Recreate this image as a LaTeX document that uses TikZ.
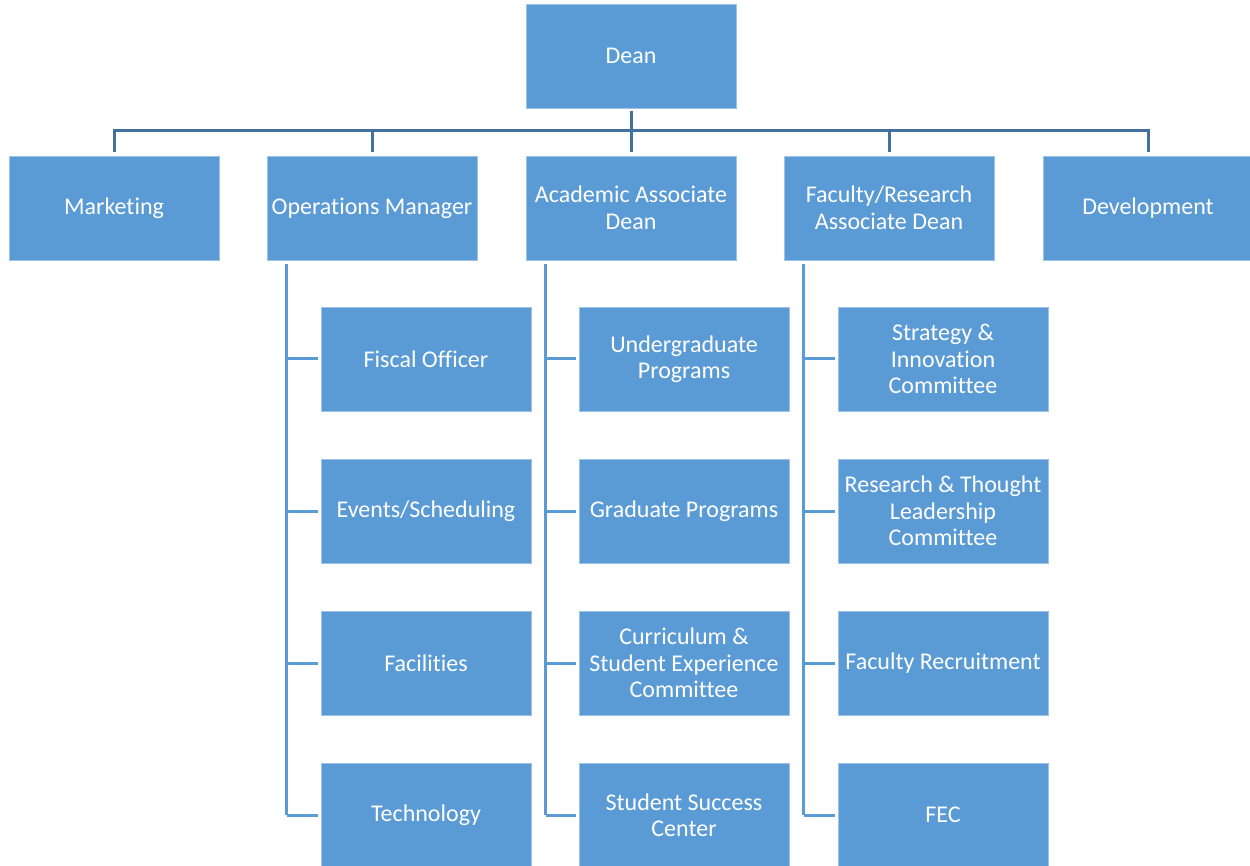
\documentclass[tikz,border=0pt]{standalone}
\usepackage{fontspec}
\setmainfont{Carlito}[Ligatures=NoCommon]
\usetikzlibrary{calc}
\definecolor{boxfill}{HTML}{5B9BD5}
\definecolor{boxedge}{HTML}{9DC3E6}
\definecolor{topline}{HTML}{41719C}
\definecolor{subline}{HTML}{5B9BD5}
\begin{document}
\begin{tikzpicture}[x=1pt,y=-1pt,
  orgbox/.style={fill=boxfill,draw=boxedge,line width=0.8pt,minimum width=210pt,minimum height=104pt,
    inner sep=0pt,text=white,align=center,font=\fontsize{24}{26.5}\selectfont},
  toplink/.style={draw=topline,line width=3pt},
  sublink/.style={draw=subline,line width=3pt}]
\useasboundingbox (0,0) rectangle (1250,866);
\clip (0,0) rectangle (1250,866);
% top
\node[orgbox] (dean) at (631,56) {Dean};
\node[orgbox] (mkt) at (114,208) {Marketing};
\node[orgbox] (ops) at (372,208) {Operations Manager};
\node[orgbox] (acad) at (631,208) {Academic Associate\\Dean};
\node[orgbox] (fac) at (889,208) {Faculty/Research\\Associate Dean};
\node[orgbox] (dev) at (1148,208) {Development};
% children
\node[orgbox] (fis) at (426,359) {Fiscal Officer};
\node[orgbox] (evt) at (426,511) {Events/Scheduling};
\node[orgbox] (facl) at (426,663) {Facilities};
\node[orgbox] (tech) at (426,815) {Technology};
\node[orgbox] (ug) at (684,359) {Undergraduate\\Programs};
\node[orgbox] (grad) at (684,511) {Graduate Programs};
\node[orgbox] (cur) at (684,663) {Curriculum \&\\Student Experience\\Committee};
\node[orgbox] (ssc) at (684,815) {Student Success\\Center};
\node[orgbox] (str) at (943,359) {Strategy \&\\Innovation\\Committee};
\node[orgbox] (rtl) at (943,511) {Research \& Thought\\Leadership\\Committee};
\node[orgbox] (frec) at (943,663) {Faculty Recruitment};
\node[orgbox] (fec) at (943,815) {FEC};
% bus
\coordinate (bus) at (631,131);
\draw[toplink,shorten <=3pt] (dean.south) -- (dean.south |- bus);
\draw[toplink,line cap=rect] (mkt.north |- bus) -- (dev.north |- bus);
\foreach \n in {mkt,ops,acad,fac,dev}
  \draw[toplink,shorten >=4pt] (\n.north |- bus) -- (\n.north);
% spines
\coordinate (sops) at ($(ops.south west)+(20,4)$);
\coordinate (sacad) at ($(acad.south west)+(20,4)$);
\coordinate (sfac) at ($(fac.south west)+(20,4)$);
\draw[sublink] (sops) -- (sops |- tech.west);
\draw[sublink] (sacad) -- (sacad |- ssc.west);
\draw[sublink] (sfac) -- (sfac |- fec.west);
\foreach \n in {fis,evt,facl,tech}
  \draw[sublink,shorten >=3pt] (sops |- \n.west) -- (\n.west);
\foreach \n in {ug,grad,cur,ssc}
  \draw[sublink,shorten >=3pt] (sacad |- \n.west) -- (\n.west);
\foreach \n in {str,rtl,frec,fec}
  \draw[sublink,shorten >=3pt] (sfac |- \n.west) -- (\n.west);
\end{tikzpicture}
\end{document}
